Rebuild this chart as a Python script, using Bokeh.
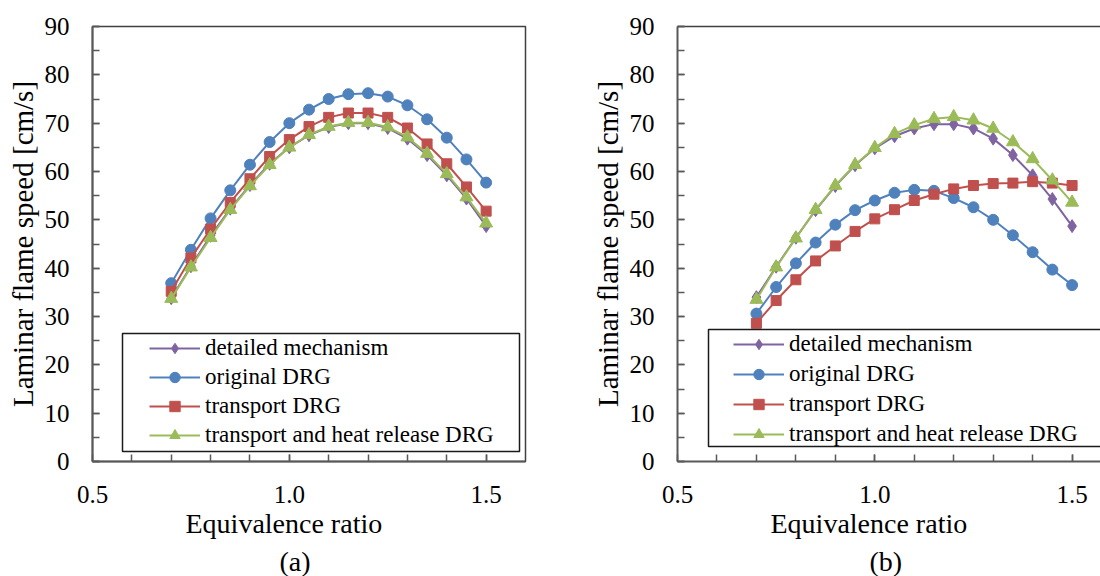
from bokeh.plotting import figure
from bokeh.models import (Range1d, SingleIntervalTicker, FixedTicker, NumeralTickFormatter,
                          Legend, LegendItem, Title, BoxAnnotation, LinearAxis)
from bokeh.layouts import row
from bokeh.embed import file_html
from bokeh.resources import INLINE

# ---- data ----
phi = [0.70, 0.75, 0.80, 0.85, 0.90, 0.95, 1.00, 1.05, 1.10, 1.15, 1.20, 1.25, 1.30, 1.35, 1.40, 1.45, 1.50]

series_names = ["detailed mechanism", "original DRG", "transport DRG", "transport and heat release DRG"]

a_detailed = [33.8, 40.4, 46.7, 52.3, 57.2, 61.6, 65.0, 67.5, 69.2, 70.0, 70.0, 69.0, 66.8, 63.4, 59.2, 54.4, 48.7]
a_original = [36.9, 43.8, 50.3, 56.1, 61.4, 66.1, 70.0, 72.8, 75.0, 76.0, 76.2, 75.5, 73.7, 70.8, 67.0, 62.5, 57.7]
a_transport = [35.2, 42.1, 48.1, 53.6, 58.5, 63.1, 66.6, 69.3, 71.2, 72.1, 72.1, 71.2, 69.0, 65.7, 61.6, 56.8, 51.8]
a_heat = [33.7, 40.2, 46.3, 52.1, 57.0, 61.4, 65.0, 67.6, 69.3, 70.1, 70.1, 69.2, 67.1, 63.7, 59.5, 54.7, 49.3]

b_detailed = [34.0, 40.3, 46.3, 52.0, 57.0, 61.3, 64.8, 67.3, 68.9, 69.8, 69.8, 68.9, 66.8, 63.4, 59.2, 54.3, 48.7]
b_original = [30.6, 36.1, 41.0, 45.3, 49.0, 52.0, 54.0, 55.6, 56.2, 56.0, 54.5, 52.6, 50.0, 46.8, 43.3, 39.7, 36.5]
b_transport = [28.6, 33.3, 37.6, 41.5, 44.6, 47.6, 50.2, 52.1, 54.0, 55.3, 56.4, 57.1, 57.5, 57.6, 57.9, 57.6, 57.1]
b_heat = [33.5, 40.2, 46.2, 52.1, 57.1, 61.4, 64.9, 67.8, 69.6, 70.9, 71.3, 70.6, 68.9, 66.1, 62.6, 58.2, 53.6]

x_tick_labels = [0.5, 1.0, 1.5]
x_minor_ticks = [0.6, 0.7, 0.8, 0.9, 1.0, 1.1, 1.2, 1.3, 1.4, 1.5]

colors = ["#8064A2", "#4F81BD", "#C0504D", "#9BBB59"]
markers = ["diamond", "circle", "square", "triangle"]
msizes = [13, 11, 10, 13]

FONT = "Liberation Serif"
AXC = "#595959"


def make_panel(ys, width, border_left, border_right, x_end, panel_label, label_off,
               box, leg_loc, leg_spacing, full_outline):
    p = figure(width=width, height=576, output_backend="svg", toolbar_location=None,
               x_range=Range1d(0.5, x_end), y_range=Range1d(0, 90),
               min_border_left=border_left, min_border_right=border_right,
               min_border_top=26, min_border_bottom=0)
    p.grid.grid_line_color = None
    p.background_fill_color = "white"
    p.border_fill_color = "white"

    # bottom x axis
    xa = p.below[0]
    xa.ticker = FixedTicker(ticks=x_tick_labels, minor_ticks=x_minor_ticks)
    xa.formatter = NumeralTickFormatter(format="0.0")
    xa.major_tick_in = 7
    xa.major_tick_out = 0
    xa.minor_tick_in = 7
    xa.minor_tick_out = 0
    xa.major_label_standoff = 24
    xa.major_label_text_font = FONT
    xa.major_label_text_font_size = "25px"
    xa.major_label_text_color = "black"
    xa.axis_line_color = AXC
    xa.axis_line_width = 2
    xa.major_tick_line_color = AXC
    xa.minor_tick_line_color = AXC
    xa.major_tick_line_width = 1.5
    xa.minor_tick_line_width = 1.5

    # left y axis
    ya = p.left[0]
    ya.ticker = SingleIntervalTicker(interval=10, num_minor_ticks=2)
    ya.major_tick_in = 7
    ya.major_tick_out = 0
    ya.minor_tick_in = 7
    ya.minor_tick_out = 0
    ya.major_label_standoff = 23
    ya.major_label_text_font = FONT
    ya.major_label_text_font_size = "25px"
    ya.major_label_text_color = "black"
    ya.axis_line_color = AXC
    ya.axis_line_width = 2
    ya.major_tick_line_color = AXC
    ya.minor_tick_line_color = AXC
    ya.major_tick_line_width = 1.5
    ya.minor_tick_line_width = 1.5
    ya.axis_label = "Laminar flame speed [cm/s]"
    ya.axis_label_text_font = FONT
    ya.axis_label_text_font_size = "29px"
    ya.axis_label_text_font_style = "normal"
    ya.axis_label_text_color = "black"
    ya.axis_label_standoff = 3

    if full_outline:
        p.outline_line_color = "#404040"
        p.outline_line_width = 1.5
    else:
        p.outline_line_color = None
        top = LinearAxis(ticker=FixedTicker(ticks=[]), major_label_text_font_size="0px",
                         axis_line_color="#404040", axis_line_width=1.5,
                         major_tick_in=0, major_tick_out=0, minor_tick_in=0, minor_tick_out=0,
                         major_label_standoff=0)
        p.add_layout(top, "above")

    items = []
    for name, y, c, m, s in zip(series_names, ys, colors, markers, msizes):
        lr = p.line(phi, y, line_color=c, line_width=2)
        mr = p.scatter(phi, y, marker=m, size=s, fill_color=c, line_color=c)
        items.append(LegendItem(label=name, renderers=[lr, mr]))

    bl, br, bb, bt = box
    p.add_layout(BoxAnnotation(left=bl, right=br, bottom=bb, top=bt,
                               left_units="screen", right_units="screen",
                               bottom_units="screen", top_units="screen",
                               fill_color="white", fill_alpha=1.0,
                               line_color="#1a1a1a", line_alpha=1.0, line_width=1.5,
                               level="annotation"))

    leg = Legend(items=items, location=leg_loc, padding=0, margin=0,
                 border_line_color=None, background_fill_alpha=0.0,
                 glyph_width=51, glyph_height=26, label_height=26,
                 label_standoff=5, spacing=leg_spacing,
                 label_text_font=FONT, label_text_font_size="23px", label_text_color="black")
    p.add_layout(leg, "center")

    t1 = Title(text="Equivalence ratio", align="left", offset=93, standoff=0,
               text_font=FONT, text_font_size="28px", text_font_style="normal",
               text_color="black")
    p.add_layout(t1, "below")
    gap = Title(text=" ", align="left", offset=0, standoff=2,
                text_font=FONT, text_font_size="1px", text_color="white")
    p.add_layout(gap, "below")
    t2 = Title(text=panel_label, align="left", offset=label_off, standoff=0,
               text_font=FONT, text_font_size="28px", text_font_style="normal",
               text_color="black")
    p.add_layout(t2, "below")
    return p


pa = make_panel([a_detailed, a_original, a_transport, a_heat], width=550,
                border_left=92, border_right=25, x_end=1.6, panel_label="(a)", label_off=187,
                box=(30, 427, 10, 128), leg_loc=(57, 13), leg_spacing=3, full_outline=True)
pb = make_panel([b_detailed, b_original, b_transport, b_heat], width=550,
                border_left=127, border_right=0, x_end=1.572, panel_label="(b)", label_off=192,
                box=(31, 500, 15, 132), leg_loc=(56, 14), leg_spacing=4, full_outline=False)

layout = row(pa, pb)
open("out.html", "w").write(file_html(layout, INLINE))
